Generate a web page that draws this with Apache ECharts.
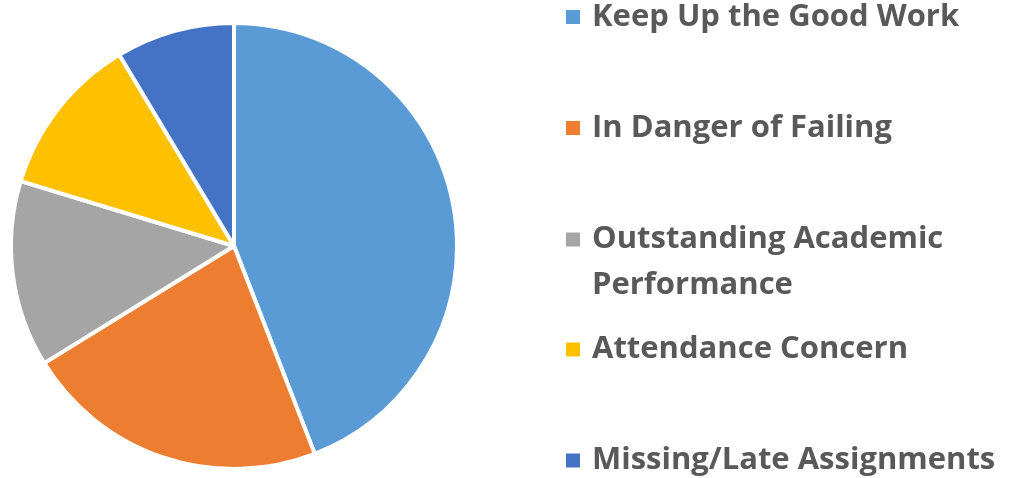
<!DOCTYPE html>
<html>
<head>
<meta charset="utf-8">
<script src="https://cdn.jsdelivr.net/npm/echarts@6/dist/echarts.min.js"></script>
<style>
  html, body { margin: 0; padding: 0; background: #fff; }
  #chart { width: 1013px; height: 478px; }
</style>
</head>
<body>
<div id="chart"></div>
<script>
// Categories and values (share of the pie)
const categories = [
    'Keep Up the Good Work',
    'In Danger of Failing',
    'Outstanding Academic\nPerformance',
    'Attendance Concern',
    'Missing/Late Assignments'
];
const values = [44.1, 22.1, 13.5, 11.7, 8.6];
const colors = ['#5B9BD5', '#ED7D31', '#A5A5A5', '#FFC000', '#4472C4'];

// Vertical centre of each legend marker
const legendCenters = [17, 128, 239.5, 349.5, 460.5];
const lineH = 46;

const chart = echarts.init(document.getElementById('chart'));

const legends = categories.map((name, i) => {
    const twoLines = name.indexOf('\n') >= 0;
    return {
        data: [name],
        orient: 'vertical',
        left: 564,
        top: twoLines ? legendCenters[i] - lineH * 1.5 : legendCenters[i] - lineH / 2,
        padding: 0,
        itemWidth: 16,
        itemHeight: 16,
        icon: 'rect',
        selectedMode: false,
        // an empty first line keeps the wrapped label's first line level with its marker
        formatter: twoLines ? (n => '\n' + n) : undefined,
        textStyle: {
            fontFamily: 'Open Sans',
            fontWeight: 'bold',
            fontSize: 31,
            color: '#595959',
            lineHeight: lineH,
            padding: [0, 0, 0, 6]
        }
    };
});

chart.setOption({
    animation: false,
    color: colors,
    legend: legends,
    series: [{
        type: 'pie',
        center: [234, 246],
        radius: 223,
        startAngle: 90,
        clockwise: true,
        label: { show: false },
        labelLine: { show: false },
        emphasis: { disabled: true },
        itemStyle: { borderColor: '#fff', borderWidth: 4 },
        data: categories.map((name, i) => ({ name: name, value: values[i] }))
    }]
});

window.addEventListener('resize', function () {
    chart.resize();
});
</script>
</body>
</html>
